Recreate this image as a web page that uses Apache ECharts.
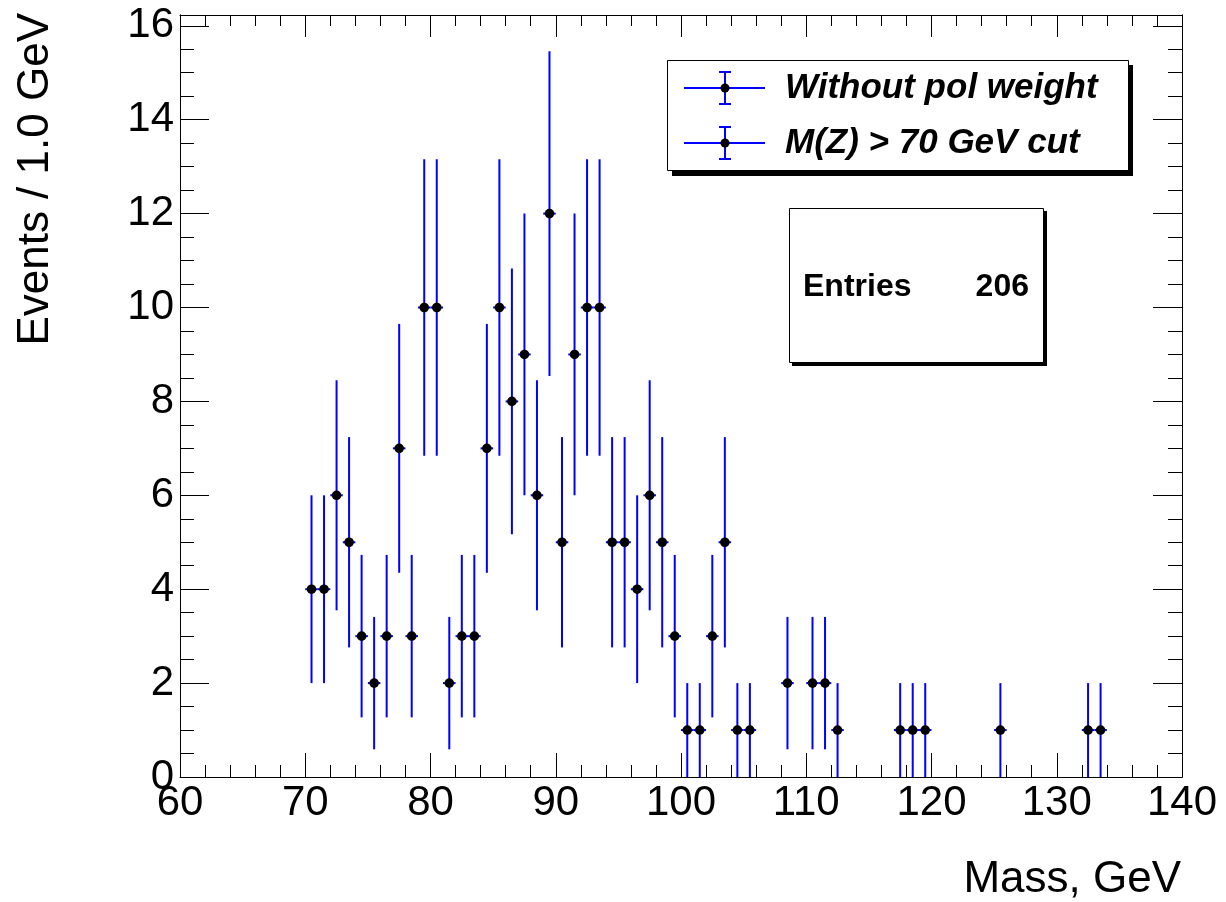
<!DOCTYPE html>
<html>
<head>
<meta charset="utf-8">
<script src="https://cdn.jsdelivr.net/npm/echarts@6/dist/echarts.min.js"></script>
<style>
html,body{margin:0;padding:0;background:#fff;}
#chart{width:1226px;height:902px;}
</style>
</head>
<body>
<div id="chart"></div>
<script>
// ---- data ----
const binCenters = [70.5,71.5,72.5,73.5,74.5,75.5,76.5,77.5,78.5,79.5,80.5,81.5,82.5,83.5,84.5,85.5,86.5,87.5,88.5,89.5,90.5,91.5,92.5,93.5,94.5,95.5,96.5,97.5,98.5,99.5,100.5,101.5,102.5,103.5,104.5,105.5,108.5,110.5,111.5,112.5,117.5,118.5,119.5,125.5,132.5,133.5];
const counts = [4,4,6,5,3,2,3,7,3,10,10,2,3,3,7,10,8,9,6,12,5,9,10,10,5,5,4,6,5,3,1,1,3,5,1,1,2,2,2,1,1,1,1,1,1,1];
const errors = [2,2,2.45,2.24,1.73,1.41,1.73,2.65,1.73,3.16,3.16,1.41,1.73,1.73,2.65,3.16,2.83,3,2.45,3.46,2.24,3,3.16,3.16,2.24,2.24,2,2.45,2.24,1.73,1,1,1.73,2.24,1,1,1.41,1.41,1.41,1,1,1,1,1,1,1];
const binWidth = 1.0;
const xMin = 60, xMax = 140, xStep = 10;
const yMin = 0, yMax = 16.23, yStep = 2, yMinorStep = 0.5;
const legendLabels = ['Without pol weight', 'M(Z) > 70 GeV cut'];
const statsLabel = 'Entries';
const statsValue = '206';
const xTitle = 'Mass, GeV';
const yTitle = 'Events / 1.0 GeV';

const FONT = 'Liberation Sans, Arial, Helvetica, sans-serif';
const BLUE = '#0000ff';

const chart = echarts.init(document.getElementById('chart'));

function xAx(pos, major, minor, labels) {
  return {
    type: 'value', position: pos, min: xMin, max: xMax, interval: xStep,
    axisLine: {show: true, onZero: false, lineStyle: {color: '#000', width: 1}},
    axisTick: {show: true, inside: true, length: major, lineStyle: {color: '#000', width: 1}},
    minorTick: {show: true, splitNumber: 5, length: minor, lineStyle: {color: '#000', width: 1}},
    splitLine: {show: false}, minorSplitLine: {show: false},
    axisLabel: labels ? {show: true, fontSize: 42, color: '#000', fontFamily: FONT, margin: 5} : {show: false}
  };
}
function yAx(pos, step, len, labels) {
  return {
    type: 'value', position: pos, min: yMin, max: yMax, interval: step,
    axisLine: {show: true, onZero: false, lineStyle: {color: '#000', width: 1}},
    axisTick: {show: true, inside: true, length: len, lineStyle: {color: '#000', width: 1}},
    splitLine: {show: false},
    axisLabel: labels ? {
      show: true, fontSize: 42, color: '#000', fontFamily: FONT, margin: 6,
      formatter: function (v) {
        const r = Math.round(v);
        return (Math.abs(v - r) < 1e-6 && r % yStep === 0) ? String(r) : '';
      }
    } : {show: false}
  };
}

const data = binCenters.map((c, i) => [c, counts[i], errors[i]]);

function marker(cx, cy) {
  const z = 13;
  return [
    {type: 'line', z: z, shape: {x1: 684, y1: cy, x2: 765, y2: cy}, style: {stroke: BLUE, lineWidth: 2}},
    {type: 'line', z: z, shape: {x1: cx, y1: cy - 16, x2: cx, y2: cy + 16}, style: {stroke: BLUE, lineWidth: 2}},
    {type: 'line', z: z, shape: {x1: cx - 6, y1: cy - 16, x2: cx + 6, y2: cy - 16}, style: {stroke: BLUE, lineWidth: 2}},
    {type: 'line', z: z, shape: {x1: cx - 6, y1: cy + 16, x2: cx + 6, y2: cy + 16}, style: {stroke: BLUE, lineWidth: 2}},
    {type: 'circle', z: z + 1, shape: {cx: cx, cy: cy, r: 4.5}, style: {fill: '#000'}}
  ];
}

const option = {
  backgroundColor: '#fff',
  animation: false,
  grid: {left: 180, right: 44, top: 15, bottom: 125, containLabel: false},
  xAxis: [xAx('bottom', 24, 12, true), xAx('top', 22, 11, false)],
  yAxis: [
    yAx('left', yStep, 29, true),
    yAx('left', yMinorStep, 14, false),
    yAx('right', yStep, 29, false),
    yAx('right', yMinorStep, 14, false)
  ],
  series: [{
    type: 'custom',
    xAxisIndex: 0, yAxisIndex: 0,
    data: data,
    encode: {x: 0, y: 1},
    renderItem: function (params, api) {
      const x = api.value(0), y = api.value(1), e = api.value(2);
      const c = api.coord([x, y]);
      const t = api.coord([x, y + e]);
      const b = api.coord([x, y - e]);
      const l = api.coord([x - binWidth / 2, y]);
      const r = api.coord([x + binWidth / 2, y]);
      return {type: 'group', children: [
        {type: 'line', shape: {x1: c[0], y1: t[1], x2: c[0], y2: b[1]}, style: {stroke: BLUE, lineWidth: 2}},
        {type: 'line', shape: {x1: l[0], y1: c[1], x2: r[0], y2: c[1]}, style: {stroke: BLUE, lineWidth: 2}},
        {type: 'circle', shape: {cx: c[0], cy: c[1], r: 4.8}, style: {fill: '#000'}}
      ]};
    }
  }],
  graphic: [
    // legend box
    {type: 'rect', shape: {x: 672, y: 65, width: 461, height: 111}, style: {fill: '#000'}, z: 10},
    {type: 'rect', shape: {x: 667.5, y: 60.5, width: 461, height: 110}, style: {fill: '#fff', stroke: '#000', lineWidth: 1}, z: 11},
  ].concat(marker(725, 88), marker(725, 143), [
    {type: 'text', z: 12, x: 785, y: 88, style: {text: legendLabels[0], font: 'italic bold 35px ' + FONT, fill: '#000', verticalAlign: 'middle', align: 'left'}},
    {type: 'text', z: 12, x: 785, y: 143, style: {text: legendLabels[1], font: 'italic bold 35px ' + FONT, fill: '#000', verticalAlign: 'middle', align: 'left'}},
    // stats box
    {type: 'rect', shape: {x: 792, y: 211, width: 255, height: 155}, style: {fill: '#000'}, z: 10},
    {type: 'rect', shape: {x: 789.5, y: 208.5, width: 254, height: 154}, style: {fill: '#fff', stroke: '#000', lineWidth: 1}, z: 11},
    {type: 'text', z: 12, x: 803, y: 287, style: {text: statsLabel, font: 'bold 32px ' + FONT, fill: '#000', verticalAlign: 'middle', align: 'left'}},
    {type: 'text', z: 12, x: 1029, y: 287, style: {text: statsValue, font: 'bold 32px ' + FONT, fill: '#000', verticalAlign: 'middle', align: 'right'}},
    // axis titles
    {type: 'text', z: 12, x: 1181, y: 880, style: {text: xTitle, font: '44px ' + FONT, fill: '#000', verticalAlign: 'middle', align: 'right'}},
    {type: 'text', z: 12, x: 36, y: 13, rotation: Math.PI / 2, style: {text: yTitle, font: '44px ' + FONT, fill: '#000', verticalAlign: 'middle', align: 'right'}}
  ])
};
chart.setOption(option);
</script>
</body>
</html>
